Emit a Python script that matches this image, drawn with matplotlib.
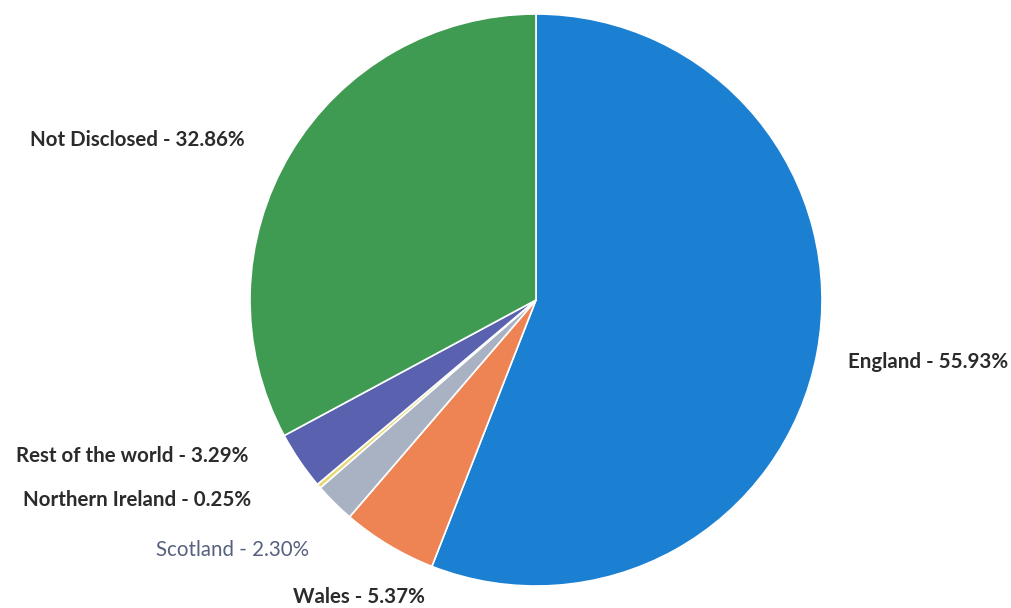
import matplotlib.pyplot as plt

# share of respondents by home nation
regions = ["England", "Wales", "Scotland", "Northern Ireland",
           "Rest of the world", "Not Disclosed"]
shares = [55.93, 5.37, 2.30, 0.25, 3.29, 32.86]
colors = ["#1b7fd2", "#ee8453", "#a9b2c3", "#e5d873", "#5a62b0", "#3f9a52"]

# label anchor (x, y, ha, colour) in pixel coordinates of the figure
label_pos = [
    (848, 362, "left", "#2b2b2b"),
    (425, 597, "right", "#2b2b2b"),
    (309, 550, "right", "#55617f"),
    (251, 500, "right", "#2b2b2b"),
    (248, 456, "right", "#2b2b2b"),
    (245, 140, "right", "#2b2b2b"),
]

W, H = 1011, 608
fig = plt.figure(figsize=(W / 100, H / 100), dpi=100)
ax = fig.add_axes([0, 0, 1, 1])

ax.pie(shares, colors=colors, startangle=90, counterclock=False,
       center=(536, H - 300), radius=286,
       wedgeprops=dict(edgecolor="white", linewidth=1.2))

# pie() resets the limits, so set them afterwards
ax.set_xlim(0, W)
ax.set_ylim(0, H)
ax.set_aspect("equal")
ax.axis("off")

for name, val, (x, y, ha, c) in zip(regions, shares, label_pos):
    bold = name != "Scotland"
    ax.text(x, H - y, f"{name} - {val:.2f}%", ha=ha, va="center",
            fontsize=14.8, family="Lato",
            fontweight="bold" if bold else "normal", color=c)

fig.savefig("out.png", dpi=100)
